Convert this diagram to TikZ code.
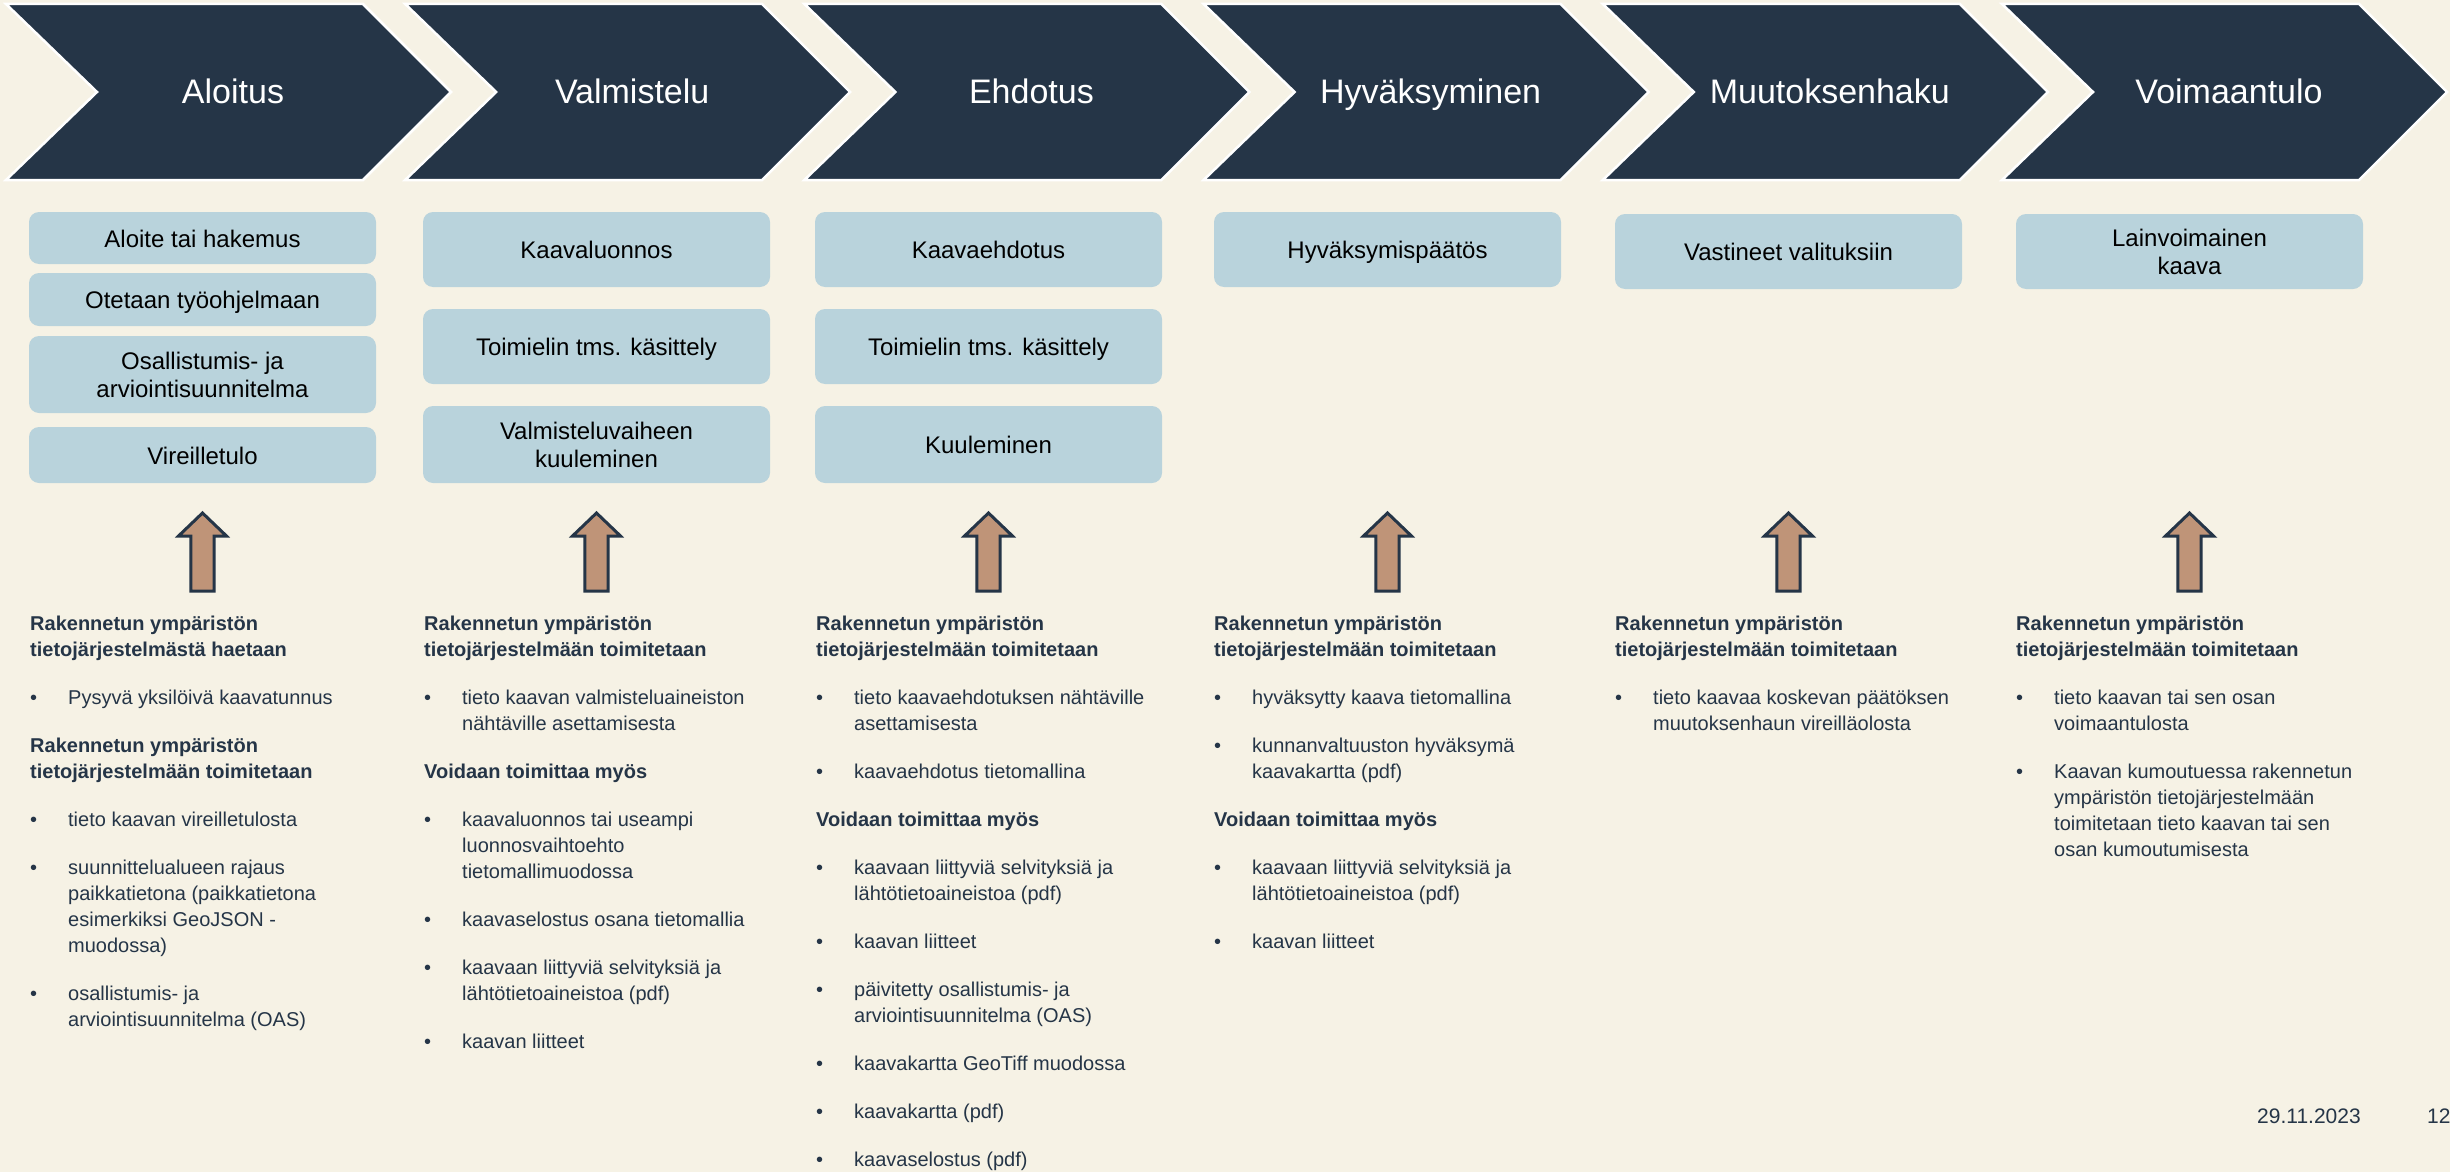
\documentclass[tikz,border=0pt]{standalone}
\usepackage{fontspec}
\setmainfont{Liberation Sans}
\definecolor{bgc}{HTML}{F6F2E5}
\definecolor{navy}{HTML}{253547}
\definecolor{boxc}{HTML}{B9D3DC}
\definecolor{arrc}{HTML}{BF9478}
\newcommand\colsetup{\fontsize{20}{26}\selectfont\parindent=0pt\parskip=22pt plus 0pt\rightskip=0pt plus 1fil\relax}
\newcommand\hd[1]{\par{\bfseries #1}}
\newcommand\bul[1]{\par\hangindent=38pt\hangafter=1\noindent\makebox[38pt][l]{\textbullet}#1}
\newcommand\coltxt[1]{\parbox[t]{370pt}{\colsetup #1\par}}
\begin{document}
\begin{tikzpicture}[x=1pt,y=-1pt,
  chev/.style={fill=navy, draw=white, line width=2.5pt, line join=miter},
  chevtext/.style={text=white, font=\fontsize{34}{40}\selectfont, inner sep=0pt, anchor=base},
  stepbox/.style={rectangle, rounded corners=10pt, fill=boxc, minimum width=347pt, inner sep=0pt, align=center, font=\fontsize{24}{28}\selectfont, text=black},
  onebox/.style={stepbox, text height=18pt, text depth=0pt},
  uparrow/.style={fill=arrc, draw=navy, line width=3pt, line join=miter},
  coltext/.style={anchor=base west, inner sep=0pt, text=navy},
  foot/.style={anchor=base west, inner sep=0pt, text=navy, font=\fontsize{21}{25}\selectfont}
]
\useasboundingbox (0,0) rectangle (2450,1172);
\fill[bgc] (0,0) rectangle (2450,1172);

% chevrons
\foreach \i/\t in {0/Aloitus,1/Valmistelu,2/Ehdotus,3/Hyväksyminen,4/Muutoksenhaku,5/Voimaantulo}{
  \pgfmathsetmacro\L{6+399.2*\i}
  \draw[chev] (\L,4) -- ({\L+357},4) -- ({\L+445},92) -- ({\L+357},180) -- (\L,180) -- ({\L+91},92) -- cycle;
  \node[chevtext] (ch\i) at ({\L+227},103) {\t};
}

% boxes column 1
\node[onebox, minimum height=52pt] (b11) at (202.5,238) {Aloite tai hakemus};
\node[onebox, minimum height=53pt] (b12) at (202.5,299.5) {Otetaan työohjelmaan};
\node[stepbox, minimum height=77pt] (b13) at (202.5,374.5) {Osallistumis- ja\\arviointisuunnitelma};
\node[onebox, minimum height=56pt] (b14) at (202.5,455) {Vireilletulo};
% column 2
\node[onebox, minimum height=75pt] (b21) at (596.5,249.5) {Kaavaluonnos};
\node[onebox, minimum height=75pt] (b22) at (596.5,346.5) {Toimielin tms. käsittely};
\node[stepbox, minimum height=77pt] (b23) at (596.5,444.5) {Valmisteluvaiheen\\kuuleminen};
% column 3
\node[onebox, minimum height=75pt] (b31) at (988.5,249.5) {Kaavaehdotus};
\node[onebox, minimum height=75pt] (b32) at (988.5,346.5) {Toimielin tms. käsittely};
\node[onebox, minimum height=77pt] (b33) at (988.5,444.5) {Kuuleminen};
% column 4-6
\node[onebox, minimum height=75pt] (b41) at (1387.5,249.5) {Hyväksymispäätös};
\node[onebox, minimum height=75pt] (b51) at (1788.5,251.5) {Vastineet valituksiin};
\node[stepbox, minimum height=75pt] (b61) at (2189.5,251.5) {Lainvoimainen\\kaava};

% block arrows
\foreach \c in {202.5,596.5,988.5,1387.5,1788.5,2189.5}{
  \draw[uparrow] ({\c-11.7},591) -- ({\c-11.7},536) -- ({\c-24},536) -- (\c,513) -- ({\c+24},536) -- ({\c+11.7},536) -- ({\c+11.7},591) -- cycle;
}

% column texts
\node[coltext] (t1) at (30,630) {\coltxt{%
\hd{Rakennetun ympäristön\\tietojärjestelmästä haetaan}
\bul{Pysyvä yksilöivä kaavatunnus}
\hd{Rakennetun ympäristön\\tietojärjestelmään toimitetaan}
\bul{tieto kaavan vireilletulosta}
\bul{suunnittelualueen rajaus\\paikkatietona (paikkatietona\\esimerkiksi GeoJSON -\\muodossa)}
\bul{osallistumis- ja\\arviointisuunnitelma (OAS)}}};

\node[coltext] (t2) at (424,630) {\coltxt{%
\hd{Rakennetun ympäristön\\tietojärjestelmään toimitetaan}
\bul{tieto kaavan valmisteluaineiston\\nähtäville asettamisesta}
\hd{Voidaan toimittaa myös}
\bul{kaavaluonnos tai useampi\\luonnosvaihtoehto\\tietomallimuodossa}
\bul{kaavaselostus osana tietomallia}
\bul{kaavaan liittyviä selvityksiä ja\\lähtötietoaineistoa (pdf)}
\bul{kaavan liitteet}}};

\node[coltext] (t3) at (816,630) {\coltxt{%
\hd{Rakennetun ympäristön\\tietojärjestelmään toimitetaan}
\bul{tieto kaavaehdotuksen nähtäville\\asettamisesta}
\bul{kaavaehdotus tietomallina}
\hd{Voidaan toimittaa myös}
\bul{kaavaan liittyviä selvityksiä ja\\lähtötietoaineistoa (pdf)}
\bul{kaavan liitteet}
\bul{päivitetty osallistumis- ja\\arviointisuunnitelma (OAS)}
\bul{kaavakartta GeoTiff muodossa}
\bul{kaavakartta (pdf)}
\bul{kaavaselostus (pdf)}}};

\node[coltext] (t4) at (1214,630) {\coltxt{%
\hd{Rakennetun ympäristön\\tietojärjestelmään toimitetaan}
\bul{hyväksytty kaava tietomallina}
\bul{kunnanvaltuuston hyväksymä\\kaavakartta (pdf)}
\hd{Voidaan toimittaa myös}
\bul{kaavaan liittyviä selvityksiä ja\\lähtötietoaineistoa (pdf)}
\bul{kaavan liitteet}}};

\node[coltext] (t5) at (1615,630) {\coltxt{%
\hd{Rakennetun ympäristön\\tietojärjestelmään toimitetaan}
\bul{tieto kaavaa koskevan päätöksen\\muutoksenhaun vireilläolosta}}};

\node[coltext] (t6) at (2016,630) {\coltxt{%
\hd{Rakennetun ympäristön\\tietojärjestelmään toimitetaan}
\bul{tieto kaavan tai sen osan\\voimaantulosta}
\bul{Kaavan kumoutuessa rakennetun\\ympäristön tietojärjestelmään\\toimitetaan tieto kaavan tai sen\\osan kumoutumisesta}}};

% footer
\node[foot] (date) at (2257,1123) {29.11.2023};
\node[foot] (page) at (2427,1123) {12};
\end{tikzpicture}
\end{document}
